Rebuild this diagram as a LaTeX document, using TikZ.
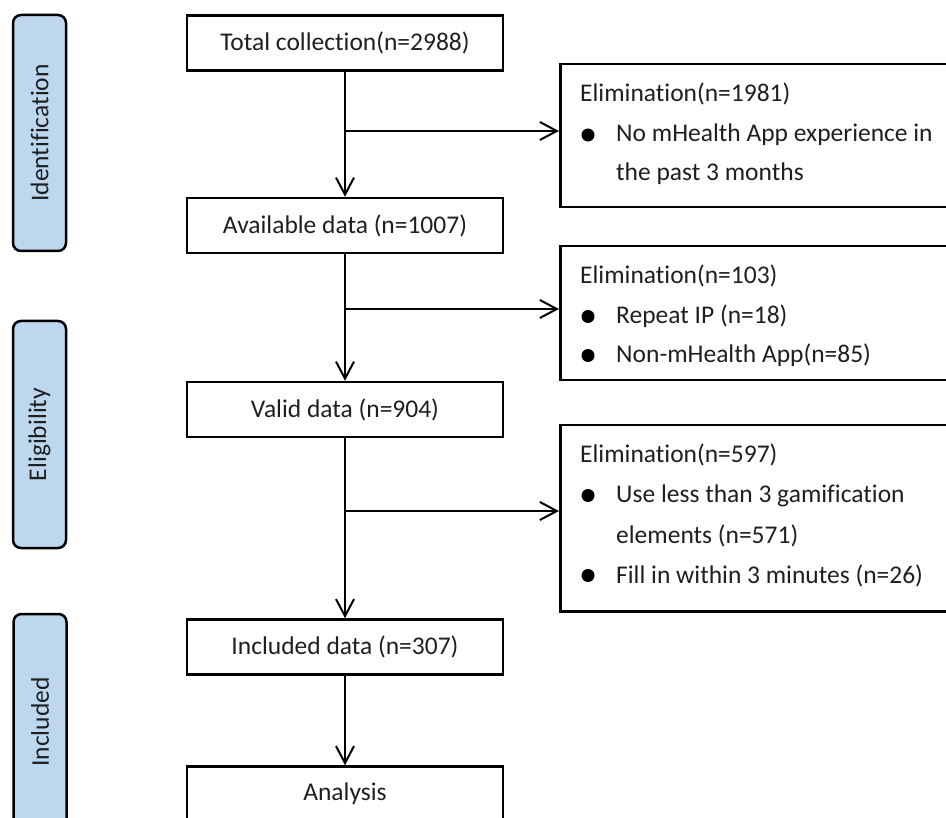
\documentclass[tikz,border=0pt]{standalone}
\usepackage{fontspec}
\setmainfont{Carlito}[Ligatures={NoCommon,NoRare,NoContextual}]
\usetikzlibrary{arrows.meta}
\definecolor{phasefill}{HTML}{BDD7EE}
\definecolor{txt}{HTML}{1F1F1F}
\begin{document}
\begin{tikzpicture}[x=1pt,y=-1pt,
  every node/.style={font=\fontsize{25.5pt}{40pt}\selectfont, text=txt},
  box/.style={draw, line width=2.5pt, minimum width=316pt, minimum height=55pt, inner sep=0pt},
  ebox/.style={draw, line width=2.5pt, anchor=north west, minimum width=440pt, inner sep=0pt},
  phase/.style={draw, line width=2.5pt, fill=phasefill, rounded corners=8pt, rotate=90, minimum height=53pt, inner sep=0pt},
  arr/.style={line width=2pt, -{Straight Barb[length=17pt,width=18pt,line width=2pt]}},
  etext/.style={anchor=base west, inner sep=0pt},
  dot/.style={circle, fill=black, minimum size=13pt, inner sep=0pt}
]
\useasboundingbox (0,0) rectangle (946,818);
\clip (0,0) rectangle (946,818);

% phase labels
\node[phase, minimum width=236pt] (pid) at (39.5,133) {Identification};
\node[phase, minimum width=227pt] (pel) at (39.5,434.5) {Eligibility};
\node[phase, minimum width=216pt] (pin) at (40,722) {Included};

% main boxes
\node[box] (total) at (345,43) {Total collection(n=2988)};
\node[box] (avail) at (345,225.5) {Available data (n=1007)};
\node[box] (valid) at (345,409.5) {Valid data (n=904)};
\node[box] (incl) at (345,647) {Included data (n=307)};
\node[box] (anal) at (345,794) {Analysis};

% elimination boxes
\node[ebox, minimum height=143pt] (e1) at (559,63) {};
\node[ebox, minimum height=134pt] (e2) at (559,245) {};
\node[ebox, minimum height=186pt] (e3) at (559,424) {};

\node[etext] (e1t) at (580,102) {Elimination(n=1981)};
\node[dot] (e1d1) at (588,135) {};
\node[etext] (e1l1) at (616,142) {No mHealth App experience in};
\node[etext] (e1l2) at (616,181) {the past 3 months};

\node[etext] (e2t) at (580,284) {Elimination(n=103)};
\node[dot] (e2d1) at (588,316.5) {};
\node[etext] (e2l1) at (616,324) {Repeat IP (n=18)};
\node[dot] (e2d2) at (588,355.5) {};
\node[etext] (e2l2) at (616,363) {Non-mHealth App(n=85)};

\node[etext] (e3t) at (580,463) {Elimination(n=597)};
\node[dot] (e3d1) at (588,495.5) {};
\node[etext] (e3l1) at (616,503) {Use less than 3 gamification};
\node[etext] (e3l2) at (616,543) {elements (n=571)};
\node[dot] (e3d2) at (588,575.5) {};
\node[etext] (e3l3) at (616,583) {Fill in within 3 minutes (n=26)};

% connectors
\coordinate (j1) at (345,131);
\coordinate (j2) at (345,309);
\coordinate (j3) at (345,511);
\draw[arr] (total) -- (avail);
\draw[arr] (avail) -- (valid);
\draw[arr] (valid) -- (incl);
\draw[arr] (incl) -- (anal);
\draw[arr] (j1) -- (j1 -| e1.west);
\draw[arr] (j2) -- (j2 -| e2.west);
\draw[arr] (j3) -- (j3 -| e3.west);
\end{tikzpicture}
\end{document}
